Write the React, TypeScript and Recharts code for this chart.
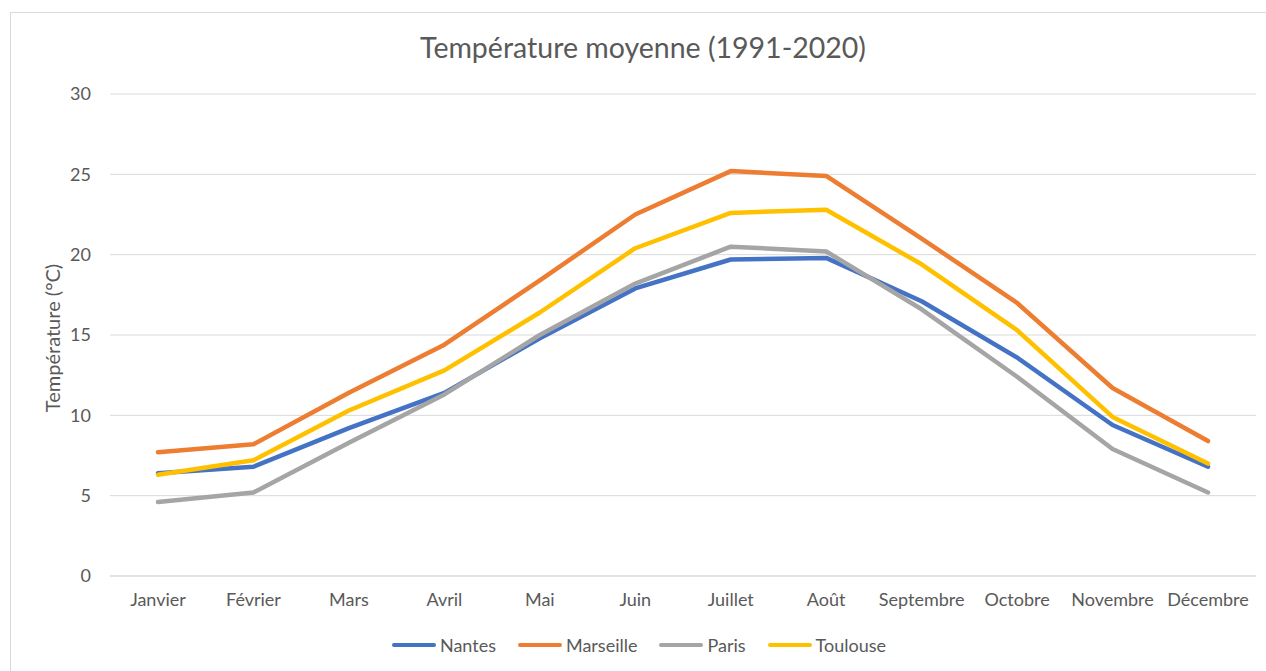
import { LineChart, Line, XAxis, YAxis, CartesianGrid, Legend } from 'recharts';

const months = ['Janvier', 'Février', 'Mars', 'Avril', 'Mai', 'Juin', 'Juillet', 'Août', 'Septembre', 'Octobre', 'Novembre', 'Décembre'];
const nantes = [6.4, 6.8, 9.2, 11.4, 14.8, 17.9, 19.7, 19.8, 17.1, 13.6, 9.4, 6.8];
const marseille = [7.7, 8.2, 11.4, 14.4, 18.4, 22.5, 25.2, 24.9, 21.0, 17.0, 11.7, 8.4];
const paris = [4.6, 5.2, 8.3, 11.3, 15.0, 18.2, 20.5, 20.2, 16.6, 12.4, 7.9, 5.2];
const toulouse = [6.3, 7.2, 10.3, 12.8, 16.4, 20.4, 22.6, 22.8, 19.4, 15.3, 9.9, 7.0];
const yTicks = [0, 5, 10, 15, 20, 25, 30];

const series = [
  { key: 'Nantes', color: '#4472C4' },
  { key: 'Marseille', color: '#ED7D31' },
  { key: 'Paris', color: '#A5A5A5' },
  { key: 'Toulouse', color: '#FFC000' },
];

const data = months.map((m, i) => ({
  month: m,
  Nantes: nantes[i],
  Marseille: marseille[i],
  Paris: paris[i],
  Toulouse: toulouse[i],
}));

const FONT = 'Lato, "Open Sans", sans-serif';
const TEXT = '#595959';

function LegendContent() {
  return (
    <div style={{ display: 'flex', justifyContent: 'center', gap: 22, fontFamily: FONT, fontSize: 18, color: TEXT }}>
      {series.map((s) => (
        <div key={s.key} style={{ display: 'flex', alignItems: 'center' }}>
          <span style={{ display: 'inline-block', width: 44, height: 4.5, borderRadius: 2, background: s.color, marginRight: 4 }} />
          <span>{s.key}</span>
        </div>
      ))}
    </div>
  );
}

export default function App() {
  return (
    <div style={{ position: 'absolute', left: 0, top: 0, width: 1266, height: 671, background: '#fff', overflow: 'hidden' }}>
      <div style={{ position: 'absolute', left: 10, top: 12, width: 1270, height: 680, border: '1px solid #d9d9d9' }} />
      <div style={{ position: 'absolute', left: 0, top: 30, width: 1286, textAlign: 'center', fontFamily: FONT, fontSize: 28.5, color: TEXT }}>
        Température moyenne (1991-2020)
      </div>
      <div style={{ position: 'absolute', left: 0, top: 0 }}>
        <LineChart width={1266} height={671} data={data} margin={{ top: 94, right: 10, bottom: 65, left: 10 }}>
          <CartesianGrid vertical={false} stroke="#d9d9d9" strokeWidth={1} />
          <XAxis
            dataKey="month"
            height={30}
            padding={{ left: 48, right: 48 }}
            axisLine={{ stroke: '#d9d9d9' }}
            tickLine={false}
            tickSize={0}
            tickMargin={17}
            tick={{ fill: TEXT, fontSize: 18, fontFamily: FONT }}
            interval={0}
          />
          <YAxis
            width={100}
            domain={[0, 30]}
            ticks={yTicks}
            axisLine={false}
            tickLine={false}
            tickSize={0}
            tickMargin={19}
            tick={{ fill: TEXT, fontSize: 18, fontFamily: FONT }}
            label={{
              value: 'Température (°C)',
              angle: -90,
              position: 'insideLeft',
              offset: 43,
              textAnchor: 'middle',
              dy: 3,
              fontSize: 20,
              fontFamily: FONT,
              fill: TEXT,
            }}
          />
          <Legend layout="horizontal" verticalAlign="middle" align="center" wrapperStyle={{ top: 634, left: 0, width: 1278 }} content={<LegendContent />} />
          {series.map((s) => (
            <Line
              key={s.key}
              type="linear"
              dataKey={s.key}
              stroke={s.color}
              strokeWidth={4.5}
              strokeLinecap="round"
              strokeLinejoin="round"
              dot={false}
              activeDot={false}
              isAnimationActive={false}
            />
          ))}
        </LineChart>
      </div>
    </div>
  );
}
